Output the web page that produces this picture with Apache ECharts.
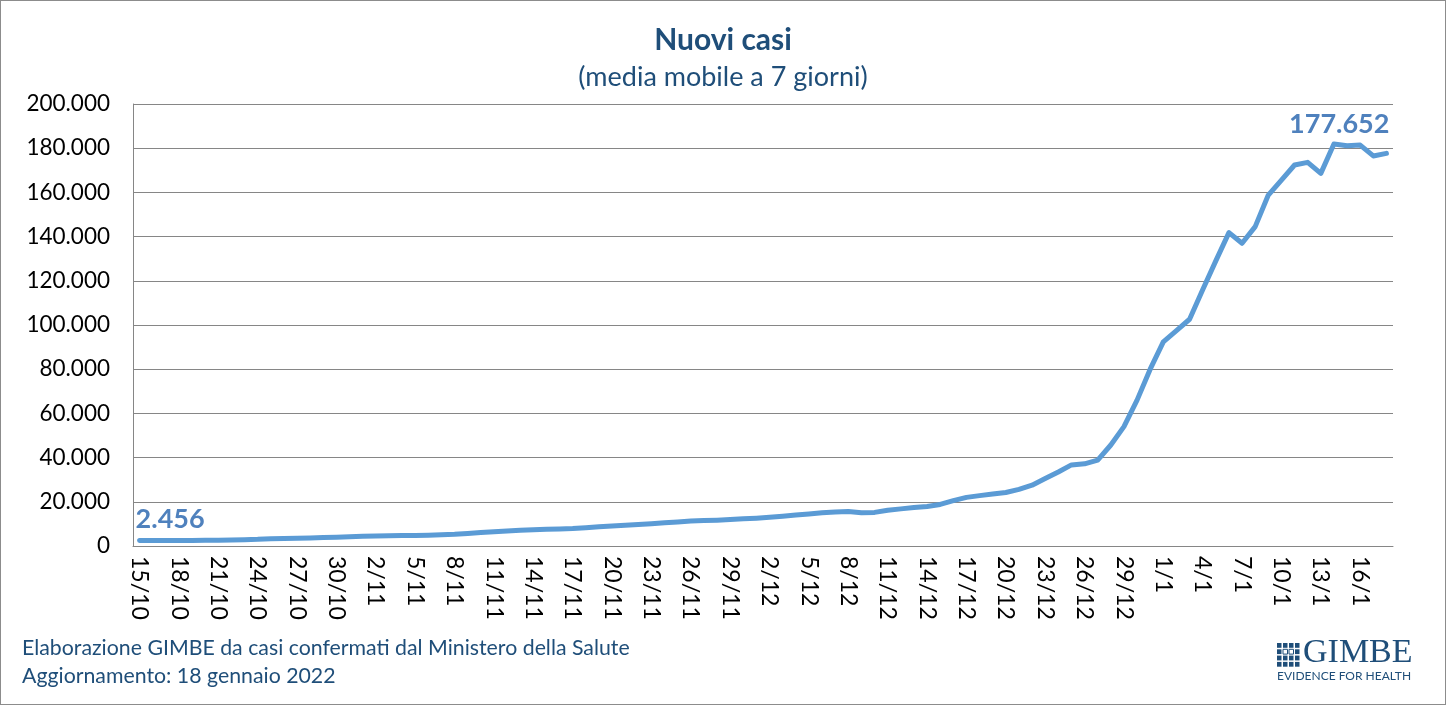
<!DOCTYPE html>
<html>
<head>
<meta charset="utf-8">
<script src="https://cdn.jsdelivr.net/npm/echarts@6/dist/echarts.min.js"></script>
<style>
html,body{margin:0;padding:0;background:#fff;}
#frame{position:absolute;left:0;top:0;width:1446px;height:705px;box-sizing:border-box;border:1px solid #8c8c8c;}
#chart{position:absolute;left:0;top:0;width:1446px;height:705px;}
</style>
</head>
<body>
<div id="chart"></div>
<div id="frame"></div>
<script>
// ---- data ----
const titleText = 'Nuovi casi';
const subtitleText = '(media mobile a 7 giorni)';
const footer1 = 'Elaborazione GIMBE da casi confermati dal Ministero della Salute';
const footer2 = 'Aggiornamento: 18 gennaio 2022';

const dates = [
 '15/10','16/10','17/10','18/10','19/10','20/10','21/10','22/10','23/10','24/10','25/10','26/10','27/10','28/10','29/10','30/10','31/10',
 '1/11','2/11','3/11','4/11','5/11','6/11','7/11','8/11','9/11','10/11','11/11','12/11','13/11','14/11','15/11','16/11','17/11','18/11','19/11','20/11','21/11','22/11','23/11','24/11','25/11','26/11','27/11','28/11','29/11','30/11',
 '1/12','2/12','3/12','4/12','5/12','6/12','7/12','8/12','9/12','10/12','11/12','12/12','13/12','14/12','15/12','16/12','17/12','18/12','19/12','20/12','21/12','22/12','23/12','24/12','25/12','26/12','27/12','28/12','29/12','30/12','31/12',
 '1/1','2/1','3/1','4/1','5/1','6/1','7/1','8/1','9/1','10/1','11/1','12/1','13/1','14/1','15/1','16/1','17/1','18/1'
];

const newCases = [
 2456,2480,2500,2520,2540,2560,2600,2700,2850,3000,3300,3400,3500,3650,3800,4000,4200,
 4400,4500,4600,4700,4800,4900,5100,5300,5700,6100,6500,6800,7100,7400,7600,7700,7900,8300,8700,9100,9400,9700,10100,10500,10900,11300,11500,11700,12000,12300,
 12600,13000,13500,14000,14500,15000,15400,15600,15000,15200,16200,16800,17400,17900,18800,20500,22000,22800,23500,24200,25600,27500,30500,33500,36700,37200,38900,45700,54000,66000,80000,
 92400,97500,102600,116000,129000,141800,137000,144500,158800,165600,172400,173600,168600,181900,181100,181400,176500,177652
];

const yTicks = [0,20000,40000,60000,80000,100000,120000,140000,160000,180000,200000];
const labelledIdx = [0, newCases.length - 1];

// ---- chart ----
const fmt = v => String(Math.round(v)).replace(/\B(?=(\d{3})+(?!\d))/g, '.');
const FONT = 'Lato, "Open Sans", sans-serif';
const chart = echarts.init(document.getElementById('chart'), null, {renderer:'canvas'});

const seriesData = newCases.map((v,i) => {
  if (i === labelledIdx[0]) {
    return {value:v, label:{show:true, position:'top', align:'left', offset:[-4,-3], formatter:p=>fmt(p.value)}};
  }
  if (i === labelledIdx[1]) {
    return {value:v, label:{show:true, position:'top', align:'right', offset:[3,-11], formatter:p=>fmt(p.value)}};
  }
  return v;
});

chart.setOption({
  animation:false,
  backgroundColor:'#ffffff',
  textStyle:{fontFamily:FONT},
  title:[
    {text:titleText, left:'center', top:20, textStyle:{fontFamily:FONT, fontSize:30, fontWeight:'bold', color:'#1F4E79'}},
    {text:subtitleText, left:'center', top:59, textStyle:{fontFamily:FONT, fontSize:27, fontWeight:'normal', color:'#1F4E79'}}
  ],
  grid:{left:133, right:53, top:104, bottom:159, containLabel:false},
  xAxis:{
    type:'category',
    data:dates,
    boundaryGap:true,
    axisLine:{show:true, lineStyle:{color:'#868686', width:1}},
    axisTick:{show:false},
    axisLabel:{interval:2, rotate:-90, margin:10, fontSize:23, color:'#000', fontFamily:FONT},
    splitLine:{show:false}
  },
  yAxis:{
    type:'value',
    min:yTicks[0], max:yTicks[yTicks.length-1], interval:yTicks[1]-yTicks[0],
    axisLine:{show:true, lineStyle:{color:'#868686', width:1}},
    axisTick:{show:false},
    axisLabel:{formatter:v=>fmt(v), fontSize:22.5, color:'#000', margin:23, fontFamily:FONT},
    splitLine:{show:true, lineStyle:{color:'#868686', width:1}}
  },
  series:[{
    type:'line',
    data:seriesData,
    symbol:'circle',
    symbolSize:0,
    showSymbol:true,
    smooth:false,
    itemStyle:{color:'#5B9BD5'},
    lineStyle:{color:'#5B9BD5', width:5, cap:'round', join:'round'},
    label:{show:false, fontSize:27, fontWeight:'bold', color:'#4F81BD', fontFamily:FONT},
    z:3
  }],
  graphic:[
    {type:'text', left:22, top:638, style:{text:footer1, fontSize:21.3, fill:'#1F4E79', fontFamily:FONT}},
    {type:'text', left:22, top:666, style:{text:footer2, fontSize:21.3, fill:'#1F4E79', fontFamily:FONT}},
    {type:'group', left:1277, top:643, children:(function(){
      const arr=[];
      for(let r=0;r<4;r++){for(let c=0;c<4;c++){
        arr.push({type:'rect', shape:{x:c*6, y:r*6.3, width:4.5, height:4.8}, style:{fill:(r===1&&c>0&&c<3)?'#ffffff':'#1F4E79', stroke:(r===1&&c>0&&c<3)?'#1F4E79':null, lineWidth:1}});
      }}
      return arr;
    })()},
    {type:'text', left:1303, top:636, style:{text:'GIMBE', fontSize:34, fill:'#1F4E79', fontFamily:'"Liberation Serif", "DejaVu Serif", serif'}},
    {type:'text', left:1277, top:670, style:{text:'EVIDENCE FOR HEALTH', fontSize:12, fill:'#1F4E79', fontFamily:FONT}}
  ]
});
</script>
</body>
</html>
